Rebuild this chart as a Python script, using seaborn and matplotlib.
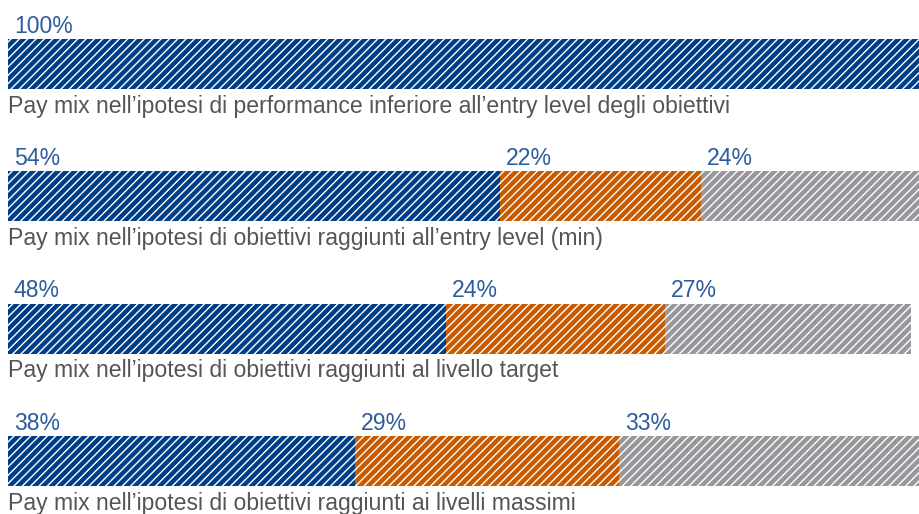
import matplotlib
matplotlib.use("Agg")
import matplotlib.pyplot as plt
import numpy as np
import pandas as pd
import seaborn as sns

# Pay-mix scenarios (share of total pay, %)
scenarios = [
    "Pay mix nell\u2019ipotesi di performance inferiore all\u2019entry level degli obiettivi",
    "Pay mix nell\u2019ipotesi di obiettivi raggiunti all\u2019entry level (min)",
    "Pay mix nell\u2019ipotesi di obiettivi raggiunti al livello target",
    "Pay mix nell\u2019ipotesi di obiettivi raggiunti ai livelli massimi",
]
fixed_pay = [100, 54, 48, 38]
short_term = [0, 22, 24, 29]
long_term = [0, 24, 27, 33]

colors = ["#003f87", "#c85a00", "#98989c"]
label_color = "#2c5c9c"
caption_color = "#555555"

sns.set_theme(style="white")
plt.rcParams["font.family"] = ["Liberation Sans", "DejaVu Sans"]
plt.rcParams["hatch.color"] = "white"
plt.rcParams["hatch.linewidth"] = 1.0

df = pd.DataFrame({
    "scenario": scenarios,
    "fixed": fixed_pay,
    "short": short_term,
    "long": long_term,
})
df["cum1"] = df["fixed"]
df["cum2"] = df["fixed"] + df["short"]
df["cum3"] = df["cum2"] + df["long"]

fig = plt.figure(figsize=(9.2, 5.14), dpi=100)
ax = fig.add_axes([8 / 920, 0, 912 / 920, 1])

bar_h = 0.378
# stacked bars drawn as overlapping cumulative totals, back to front
for col, c in zip(["cum3", "cum2", "cum1"], colors[::-1]):
    sns.barplot(data=df, y="scenario", x=col, orient="h", color=c,
                hatch="////", edgecolor="white", linewidth=0,
                width=bar_h, errorbar=None, saturation=1, ax=ax)

ax.set_xlim(0, 100)
ax.set_ylim(3.40, -0.484)
ax.axis("off")

for i, row in df.iterrows():
    starts = [0, row["cum1"], row["cum2"]]
    vals = [row["fixed"], row["short"], row["long"]]
    top = i - bar_h / 2
    for s, v in zip(starts, vals):
        if v <= 0:
            continue
        ax.annotate(f"{v}%", xy=(s, top), xytext=(4.2, 4.5),
                    textcoords="offset points", ha="left", va="baseline",
                    fontsize=16.6, color=label_color)
    ax.annotate(row["scenario"], xy=(0, i + bar_h / 2), xytext=(0, -4),
                textcoords="offset points", ha="left", va="top",
                fontsize=16.6, color=caption_color, annotation_clip=False)

fig.savefig("out.png", dpi=100)
